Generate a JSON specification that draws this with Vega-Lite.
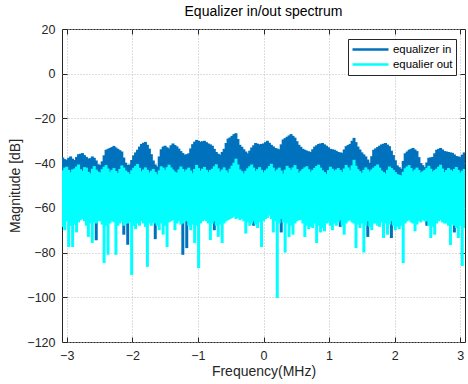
{
  "$schema": "https://vega.github.io/schema/vega-lite/v6.json",
  "width": 403,
  "height": 313,
  "autosize": {"type": "none"},
  "padding": {"left": 62, "top": 29, "right": 3, "bottom": 42},
  "title": {"text": "Equalizer in/out spectrum", "font": "Liberation Sans", "fontSize": 14, "fontWeight": "normal", "color": "#000000", "offset": 4},
  "config": {
    "view": {"stroke": "#262626", "strokeWidth": 1},
    "axis": {"labelFont": "Liberation Sans", "titleFont": "Liberation Sans", "labelFontSize": 12.5, "titleFontSize": 14, "titleFontWeight": "normal", "labelColor": "#262626", "titleColor": "#262626", "tickColor": "#262626", "tickSize": -5, "domain": false, "gridColor": "#bdbdbd", "gridDash": [1, 2], "gridWidth": 1, "zindex": 0}
  },
  "data": {"values": [
    {"f": -3.06, "in_hi": -37.5, "in_lo": -58.0, "out_hi": -43.2, "out_lo": -68.5},
    {"f": -3.03, "in_hi": -38.2, "in_lo": -58.4, "out_hi": -42.0, "out_lo": -70.0},
    {"f": -3.00, "in_hi": -38.5, "in_lo": -60.5, "out_hi": -41.6, "out_lo": -66.0},
    {"f": -2.97, "in_hi": -37.6, "in_lo": -60.1, "out_hi": -43.0, "out_lo": -77.5},
    {"f": -2.94, "in_hi": -37.0, "in_lo": -57.8, "out_hi": -44.1, "out_lo": -68.0},
    {"f": -2.91, "in_hi": -38.0, "in_lo": -57.2, "out_hi": -42.8, "out_lo": -77.5},
    {"f": -2.88, "in_hi": -38.6, "in_lo": -59.0, "out_hi": -42.4, "out_lo": -67.5},
    {"f": -2.85, "in_hi": -37.2, "in_lo": -59.5, "out_hi": -41.5, "out_lo": -71.0},
    {"f": -2.82, "in_hi": -36.0, "in_lo": -58.6, "out_hi": -40.6, "out_lo": -66.5},
    {"f": -2.79, "in_hi": -35.8, "in_lo": -61.3, "out_hi": -42.7, "out_lo": -65.5},
    {"f": -2.76, "in_hi": -35.5, "in_lo": -57.5, "out_hi": -43.5, "out_lo": -65.0},
    {"f": -2.73, "in_hi": -36.4, "in_lo": -58.0, "out_hi": -41.8, "out_lo": -66.0},
    {"f": -2.70, "in_hi": -37.2, "in_lo": -60.0, "out_hi": -42.0, "out_lo": -68.0},
    {"f": -2.67, "in_hi": -37.9, "in_lo": -60.6, "out_hi": -43.9, "out_lo": -73.0},
    {"f": -2.64, "in_hi": -37.8, "in_lo": -58.2, "out_hi": -44.6, "out_lo": -67.0},
    {"f": -2.61, "in_hi": -37.0, "in_lo": -62.0, "out_hi": -42.5, "out_lo": -75.7},
    {"f": -2.58, "in_hi": -37.6, "in_lo": -59.4, "out_hi": -41.3, "out_lo": -66.5},
    {"f": -2.55, "in_hi": -38.8, "in_lo": -74.5, "out_hi": -42.9, "out_lo": -67.0},
    {"f": -2.52, "in_hi": -40.5, "in_lo": -61.0, "out_hi": -43.8, "out_lo": -66.0},
    {"f": -2.49, "in_hi": -40.8, "in_lo": -59.0, "out_hi": -44.2, "out_lo": -66.0},
    {"f": -2.46, "in_hi": -39.2, "in_lo": -57.8, "out_hi": -42.7, "out_lo": -67.5},
    {"f": -2.43, "in_hi": -36.5, "in_lo": -57.5, "out_hi": -41.6, "out_lo": -84.7},
    {"f": -2.40, "in_hi": -34.0, "in_lo": -59.2, "out_hi": -40.9, "out_lo": -68.0},
    {"f": -2.37, "in_hi": -33.6, "in_lo": -60.8, "out_hi": -42.4, "out_lo": -81.0},
    {"f": -2.34, "in_hi": -33.2, "in_lo": -58.5, "out_hi": -43.9, "out_lo": -67.0},
    {"f": -2.31, "in_hi": -32.8, "in_lo": -58.7, "out_hi": -43.0, "out_lo": -66.0},
    {"f": -2.28, "in_hi": -32.3, "in_lo": -60.2, "out_hi": -42.2, "out_lo": -66.5},
    {"f": -2.25, "in_hi": -33.0, "in_lo": -61.5, "out_hi": -43.5, "out_lo": -81.0},
    {"f": -2.22, "in_hi": -33.6, "in_lo": -57.4, "out_hi": -44.4, "out_lo": -68.0},
    {"f": -2.19, "in_hi": -34.2, "in_lo": -57.9, "out_hi": -42.6, "out_lo": -67.0},
    {"f": -2.16, "in_hi": -34.8, "in_lo": -59.6, "out_hi": -41.0, "out_lo": -66.0},
    {"f": -2.13, "in_hi": -37.5, "in_lo": -72.0, "out_hi": -42.0, "out_lo": -68.0},
    {"f": -2.10, "in_hi": -39.8, "in_lo": -60.4, "out_hi": -43.3, "out_lo": -67.0},
    {"f": -2.07, "in_hi": -40.8, "in_lo": -76.5, "out_hi": -44.0, "out_lo": -67.0},
    {"f": -2.04, "in_hi": -40.6, "in_lo": -58.8, "out_hi": -44.8, "out_lo": -66.5},
    {"f": -2.01, "in_hi": -38.6, "in_lo": -59.8, "out_hi": -43.2, "out_lo": -90.0},
    {"f": -1.98, "in_hi": -36.5, "in_lo": -57.6, "out_hi": -42.1, "out_lo": -68.0},
    {"f": -1.95, "in_hi": -35.2, "in_lo": -58.3, "out_hi": -41.2, "out_lo": -69.5},
    {"f": -1.92, "in_hi": -34.0, "in_lo": -60.8, "out_hi": -40.4, "out_lo": -67.0},
    {"f": -1.89, "in_hi": -32.6, "in_lo": -61.0, "out_hi": -42.1, "out_lo": -68.0},
    {"f": -1.86, "in_hi": -31.4, "in_lo": -58.1, "out_hi": -43.6, "out_lo": -66.0},
    {"f": -1.83, "in_hi": -30.9, "in_lo": -57.6, "out_hi": -42.8, "out_lo": -67.0},
    {"f": -1.80, "in_hi": -30.5, "in_lo": -59.5, "out_hi": -41.9, "out_lo": -68.5},
    {"f": -1.77, "in_hi": -31.8, "in_lo": -60.4, "out_hi": -43.0, "out_lo": -86.4},
    {"f": -1.74, "in_hi": -33.5, "in_lo": -58.2, "out_hi": -44.2, "out_lo": -67.0},
    {"f": -1.71, "in_hi": -36.0, "in_lo": -58.9, "out_hi": -43.4, "out_lo": -68.0},
    {"f": -1.68, "in_hi": -38.8, "in_lo": -60.6, "out_hi": -42.6, "out_lo": -66.5},
    {"f": -1.65, "in_hi": -40.6, "in_lo": -74.0, "out_hi": -43.9, "out_lo": -67.0},
    {"f": -1.62, "in_hi": -41.5, "in_lo": -57.7, "out_hi": -45.0, "out_lo": -68.0},
    {"f": -1.59, "in_hi": -37.0, "in_lo": -59.6, "out_hi": -43.2, "out_lo": -70.0},
    {"f": -1.56, "in_hi": -33.8, "in_lo": -61.4, "out_hi": -41.4, "out_lo": -67.0},
    {"f": -1.53, "in_hi": -32.6, "in_lo": -61.2, "out_hi": -42.0, "out_lo": -72.0},
    {"f": -1.50, "in_hi": -32.2, "in_lo": -58.4, "out_hi": -43.1, "out_lo": -68.0},
    {"f": -1.47, "in_hi": -32.9, "in_lo": -58.1, "out_hi": -41.8, "out_lo": -77.5},
    {"f": -1.44, "in_hi": -33.4, "in_lo": -59.7, "out_hi": -40.7, "out_lo": -66.5},
    {"f": -1.41, "in_hi": -32.0, "in_lo": -60.2, "out_hi": -41.9, "out_lo": -66.0},
    {"f": -1.38, "in_hi": -31.2, "in_lo": -57.9, "out_hi": -42.9, "out_lo": -65.5},
    {"f": -1.35, "in_hi": -31.9, "in_lo": -57.4, "out_hi": -43.8, "out_lo": -70.0},
    {"f": -1.32, "in_hi": -32.5, "in_lo": -60.0, "out_hi": -44.3, "out_lo": -67.0},
    {"f": -1.29, "in_hi": -33.5, "in_lo": -59.9, "out_hi": -42.8, "out_lo": -66.0},
    {"f": -1.26, "in_hi": -34.6, "in_lo": -58.6, "out_hi": -41.5, "out_lo": -67.5},
    {"f": -1.23, "in_hi": -35.5, "in_lo": -81.0, "out_hi": -42.6, "out_lo": -67.0},
    {"f": -1.20, "in_hi": -36.2, "in_lo": -60.7, "out_hi": -43.7, "out_lo": -66.0},
    {"f": -1.17, "in_hi": -36.0, "in_lo": -78.0, "out_hi": -42.8, "out_lo": -66.0},
    {"f": -1.14, "in_hi": -35.6, "in_lo": -58.0, "out_hi": -42.0, "out_lo": -68.0},
    {"f": -1.11, "in_hi": -33.4, "in_lo": -58.6, "out_hi": -43.3, "out_lo": -70.0},
    {"f": -1.08, "in_hi": -31.5, "in_lo": -61.0, "out_hi": -44.5, "out_lo": -67.5},
    {"f": -1.05, "in_hi": -30.4, "in_lo": -61.4, "out_hi": -42.6, "out_lo": -75.7},
    {"f": -1.02, "in_hi": -29.6, "in_lo": -58.8, "out_hi": -40.8, "out_lo": -68.0},
    {"f": -0.99, "in_hi": -30.0, "in_lo": -57.8, "out_hi": -42.2, "out_lo": -87.0},
    {"f": -0.96, "in_hi": -30.4, "in_lo": -59.4, "out_hi": -43.4, "out_lo": -67.0},
    {"f": -0.93, "in_hi": -30.2, "in_lo": -60.0, "out_hi": -42.5, "out_lo": -66.0},
    {"f": -0.90, "in_hi": -30.0, "in_lo": -58.0, "out_hi": -41.7, "out_lo": -65.5},
    {"f": -0.87, "in_hi": -30.6, "in_lo": -58.5, "out_hi": -43.0, "out_lo": -66.0},
    {"f": -0.84, "in_hi": -31.2, "in_lo": -60.4, "out_hi": -44.0, "out_lo": -67.0},
    {"f": -0.81, "in_hi": -31.6, "in_lo": -61.1, "out_hi": -43.1, "out_lo": -74.4},
    {"f": -0.78, "in_hi": -32.2, "in_lo": -57.6, "out_hi": -42.5, "out_lo": -67.0},
    {"f": -0.75, "in_hi": -33.6, "in_lo": -70.0, "out_hi": -41.4, "out_lo": -66.0},
    {"f": -0.72, "in_hi": -35.0, "in_lo": -59.8, "out_hi": -40.5, "out_lo": -68.0},
    {"f": -0.69, "in_hi": -35.8, "in_lo": -59.3, "out_hi": -42.3, "out_lo": -73.0},
    {"f": -0.66, "in_hi": -36.2, "in_lo": -58.3, "out_hi": -43.8, "out_lo": -67.5},
    {"f": -0.63, "in_hi": -35.0, "in_lo": -57.7, "out_hi": -42.9, "out_lo": -75.7},
    {"f": -0.60, "in_hi": -33.6, "in_lo": -60.2, "out_hi": -41.9, "out_lo": -67.0},
    {"f": -0.57, "in_hi": -31.0, "in_lo": -60.7, "out_hi": -43.2, "out_lo": -66.0},
    {"f": -0.54, "in_hi": -29.0, "in_lo": -58.8, "out_hi": -44.2, "out_lo": -65.5},
    {"f": -0.51, "in_hi": -28.5, "in_lo": -58.2, "out_hi": -42.5, "out_lo": -65.0},
    {"f": -0.48, "in_hi": -27.8, "in_lo": -59.9, "out_hi": -41.1, "out_lo": -64.5},
    {"f": -0.45, "in_hi": -27.0, "in_lo": -59.4, "out_hi": -39.8, "out_lo": -64.0},
    {"f": -0.42, "in_hi": -26.6, "in_lo": -57.8, "out_hi": -38.0, "out_lo": -65.0},
    {"f": -0.39, "in_hi": -29.2, "in_lo": -61.6, "out_hi": -40.6, "out_lo": -64.5},
    {"f": -0.36, "in_hi": -31.8, "in_lo": -58.6, "out_hi": -42.8, "out_lo": -65.5},
    {"f": -0.33, "in_hi": -32.7, "in_lo": -57.3, "out_hi": -43.6, "out_lo": -65.0},
    {"f": -0.30, "in_hi": -33.8, "in_lo": -60.1, "out_hi": -44.6, "out_lo": -66.0},
    {"f": -0.27, "in_hi": -34.8, "in_lo": -60.3, "out_hi": -43.4, "out_lo": -71.5},
    {"f": -0.24, "in_hi": -35.6, "in_lo": -58.1, "out_hi": -42.3, "out_lo": -66.5},
    {"f": -0.21, "in_hi": -34.4, "in_lo": -58.8, "out_hi": -41.4, "out_lo": -68.0},
    {"f": -0.18, "in_hi": -33.0, "in_lo": -61.2, "out_hi": -40.6, "out_lo": -67.0},
    {"f": -0.15, "in_hi": -32.0, "in_lo": -68.0, "out_hi": -42.0, "out_lo": -66.0},
    {"f": -0.12, "in_hi": -31.0, "in_lo": -58.7, "out_hi": -43.5, "out_lo": -67.5},
    {"f": -0.09, "in_hi": -31.3, "in_lo": -59.7, "out_hi": -42.7, "out_lo": -69.0},
    {"f": -0.06, "in_hi": -31.6, "in_lo": -57.5, "out_hi": -41.8, "out_lo": -66.5},
    {"f": -0.03, "in_hi": -31.4, "in_lo": -57.9, "out_hi": -43.0, "out_lo": -77.5},
    {"f": 0.00, "in_hi": -31.2, "in_lo": -60.3, "out_hi": -44.1, "out_lo": -66.0},
    {"f": 0.03, "in_hi": -30.6, "in_lo": -60.9, "out_hi": -43.2, "out_lo": -65.0},
    {"f": 0.06, "in_hi": -30.0, "in_lo": -58.9, "out_hi": -42.4, "out_lo": -64.5},
    {"f": 0.09, "in_hi": -30.9, "in_lo": -58.4, "out_hi": -41.3, "out_lo": -63.5},
    {"f": 0.12, "in_hi": -31.8, "in_lo": -60.6, "out_hi": -40.3, "out_lo": -65.0},
    {"f": 0.15, "in_hi": -32.5, "in_lo": -61.7, "out_hi": -42.0, "out_lo": -71.0},
    {"f": 0.18, "in_hi": -33.2, "in_lo": -58.3, "out_hi": -43.6, "out_lo": -66.0},
    {"f": 0.21, "in_hi": -33.5, "in_lo": -57.6, "out_hi": -42.8, "out_lo": -100.3},
    {"f": 0.24, "in_hi": -33.8, "in_lo": -59.4, "out_hi": -42.0, "out_lo": -67.0},
    {"f": 0.27, "in_hi": -31.6, "in_lo": -71.0, "out_hi": -43.3, "out_lo": -65.0},
    {"f": 0.30, "in_hi": -29.4, "in_lo": -60.2, "out_hi": -44.7, "out_lo": -66.5},
    {"f": 0.33, "in_hi": -28.8, "in_lo": -59.2, "out_hi": -42.9, "out_lo": -80.0},
    {"f": 0.36, "in_hi": -28.2, "in_lo": -57.8, "out_hi": -41.2, "out_lo": -67.0},
    {"f": 0.39, "in_hi": -27.6, "in_lo": -60.5, "out_hi": -42.1, "out_lo": -73.0},
    {"f": 0.42, "in_hi": -27.0, "in_lo": -61.1, "out_hi": -43.0, "out_lo": -68.0},
    {"f": 0.45, "in_hi": -27.8, "in_lo": -58.0, "out_hi": -41.9, "out_lo": -72.0},
    {"f": 0.48, "in_hi": -28.6, "in_lo": -58.6, "out_hi": -40.9, "out_lo": -67.0},
    {"f": 0.51, "in_hi": -30.2, "in_lo": -61.3, "out_hi": -42.6, "out_lo": -66.0},
    {"f": 0.54, "in_hi": -31.8, "in_lo": -59.0, "out_hi": -44.3, "out_lo": -65.5},
    {"f": 0.57, "in_hi": -32.7, "in_lo": -57.8, "out_hi": -43.4, "out_lo": -65.5},
    {"f": 0.60, "in_hi": -33.6, "in_lo": -60.4, "out_hi": -42.6, "out_lo": -67.0},
    {"f": 0.63, "in_hi": -34.0, "in_lo": -60.1, "out_hi": -41.9, "out_lo": -73.0},
    {"f": 0.66, "in_hi": -34.4, "in_lo": -58.5, "out_hi": -41.4, "out_lo": -68.0},
    {"f": 0.69, "in_hi": -34.7, "in_lo": -58.6, "out_hi": -42.7, "out_lo": -69.5},
    {"f": 0.72, "in_hi": -35.0, "in_lo": -61.0, "out_hi": -43.9, "out_lo": -68.5},
    {"f": 0.75, "in_hi": -33.8, "in_lo": -61.0, "out_hi": -43.0, "out_lo": -69.0},
    {"f": 0.78, "in_hi": -32.6, "in_lo": -57.9, "out_hi": -42.1, "out_lo": -67.0},
    {"f": 0.81, "in_hi": -32.0, "in_lo": -57.5, "out_hi": -41.3, "out_lo": -75.7},
    {"f": 0.84, "in_hi": -31.4, "in_lo": -59.6, "out_hi": -40.7, "out_lo": -68.0},
    {"f": 0.87, "in_hi": -31.2, "in_lo": -59.8, "out_hi": -42.0, "out_lo": -71.0},
    {"f": 0.90, "in_hi": -31.0, "in_lo": -58.2, "out_hi": -43.2, "out_lo": -69.0},
    {"f": 0.93, "in_hi": -31.6, "in_lo": -60.6, "out_hi": -44.0, "out_lo": -70.5},
    {"f": 0.96, "in_hi": -32.2, "in_lo": -60.9, "out_hi": -44.8, "out_lo": -67.0},
    {"f": 0.99, "in_hi": -32.9, "in_lo": -58.3, "out_hi": -43.1, "out_lo": -66.5},
    {"f": 1.02, "in_hi": -33.6, "in_lo": -57.7, "out_hi": -41.6, "out_lo": -68.0},
    {"f": 1.05, "in_hi": -33.8, "in_lo": -61.4, "out_hi": -42.5, "out_lo": -70.0},
    {"f": 1.08, "in_hi": -34.0, "in_lo": -59.1, "out_hi": -43.4, "out_lo": -67.0},
    {"f": 1.11, "in_hi": -34.5, "in_lo": -57.9, "out_hi": -42.8, "out_lo": -68.0},
    {"f": 1.14, "in_hi": -35.0, "in_lo": -60.5, "out_hi": -42.2, "out_lo": -66.5},
    {"f": 1.17, "in_hi": -35.2, "in_lo": -68.5, "out_hi": -43.1, "out_lo": -65.5},
    {"f": 1.20, "in_hi": -35.4, "in_lo": -58.4, "out_hi": -44.0, "out_lo": -68.0},
    {"f": 1.23, "in_hi": -33.9, "in_lo": -59.5, "out_hi": -42.4, "out_lo": -72.0},
    {"f": 1.26, "in_hi": -32.4, "in_lo": -61.2, "out_hi": -40.8, "out_lo": -67.0},
    {"f": 1.29, "in_hi": -31.9, "in_lo": -60.8, "out_hi": -41.9, "out_lo": -66.0},
    {"f": 1.32, "in_hi": -31.4, "in_lo": -57.6, "out_hi": -43.1, "out_lo": -65.5},
    {"f": 1.35, "in_hi": -30.0, "in_lo": -58.1, "out_hi": -41.0, "out_lo": -66.5},
    {"f": 1.38, "in_hi": -28.7, "in_lo": -60.3, "out_hi": -38.5, "out_lo": -67.0},
    {"f": 1.41, "in_hi": -30.6, "in_lo": -61.2, "out_hi": -41.2, "out_lo": -78.0},
    {"f": 1.44, "in_hi": -32.6, "in_lo": -58.8, "out_hi": -42.7, "out_lo": -67.5},
    {"f": 1.47, "in_hi": -33.9, "in_lo": -57.4, "out_hi": -43.6, "out_lo": -69.0},
    {"f": 1.50, "in_hi": -35.2, "in_lo": -59.9, "out_hi": -44.4, "out_lo": -67.0},
    {"f": 1.53, "in_hi": -36.1, "in_lo": -60.0, "out_hi": -43.0, "out_lo": -80.0},
    {"f": 1.56, "in_hi": -37.0, "in_lo": -58.2, "out_hi": -41.9, "out_lo": -68.0},
    {"f": 1.59, "in_hi": -38.4, "in_lo": -73.0, "out_hi": -42.8, "out_lo": -66.0},
    {"f": 1.62, "in_hi": -39.8, "in_lo": -61.0, "out_hi": -43.7, "out_lo": -68.5},
    {"f": 1.65, "in_hi": -36.9, "in_lo": -58.7, "out_hi": -42.8, "out_lo": -70.0},
    {"f": 1.68, "in_hi": -34.0, "in_lo": -57.6, "out_hi": -42.0, "out_lo": -67.0},
    {"f": 1.71, "in_hi": -33.4, "in_lo": -61.6, "out_hi": -41.3, "out_lo": -67.0},
    {"f": 1.74, "in_hi": -32.8, "in_lo": -60.1, "out_hi": -40.6, "out_lo": -68.0},
    {"f": 1.77, "in_hi": -32.2, "in_lo": -57.7, "out_hi": -42.0, "out_lo": -68.5},
    {"f": 1.80, "in_hi": -31.6, "in_lo": -58.9, "out_hi": -43.3, "out_lo": -66.5},
    {"f": 1.83, "in_hi": -31.3, "in_lo": -59.9, "out_hi": -44.0, "out_lo": -73.5},
    {"f": 1.86, "in_hi": -31.0, "in_lo": -61.3, "out_hi": -44.6, "out_lo": -67.0},
    {"f": 1.89, "in_hi": -31.7, "in_lo": -60.4, "out_hi": -43.0, "out_lo": -72.0},
    {"f": 1.92, "in_hi": -32.4, "in_lo": -58.0, "out_hi": -41.5, "out_lo": -67.5},
    {"f": 1.95, "in_hi": -34.4, "in_lo": -73.5, "out_hi": -42.2, "out_lo": -66.0},
    {"f": 1.98, "in_hi": -36.4, "in_lo": -59.5, "out_hi": -43.0, "out_lo": -68.0},
    {"f": 2.01, "in_hi": -38.7, "in_lo": -58.2, "out_hi": -44.0, "out_lo": -70.0},
    {"f": 2.04, "in_hi": -41.0, "in_lo": -60.7, "out_hi": -44.9, "out_lo": -68.5},
    {"f": 2.07, "in_hi": -41.8, "in_lo": -61.0, "out_hi": -45.2, "out_lo": -69.5},
    {"f": 2.10, "in_hi": -42.5, "in_lo": -57.9, "out_hi": -45.5, "out_lo": -68.0},
    {"f": 2.13, "in_hi": -39.0, "in_lo": -57.6, "out_hi": -43.9, "out_lo": -84.7},
    {"f": 2.16, "in_hi": -35.6, "in_lo": -60.0, "out_hi": -42.3, "out_lo": -67.0},
    {"f": 2.19, "in_hi": -34.8, "in_lo": -60.2, "out_hi": -41.5, "out_lo": -66.0},
    {"f": 2.22, "in_hi": -34.0, "in_lo": -58.3, "out_hi": -40.9, "out_lo": -65.5},
    {"f": 2.25, "in_hi": -33.6, "in_lo": -58.9, "out_hi": -42.2, "out_lo": -66.5},
    {"f": 2.28, "in_hi": -33.2, "in_lo": -61.4, "out_hi": -43.6, "out_lo": -67.0},
    {"f": 2.31, "in_hi": -33.9, "in_lo": -61.5, "out_hi": -42.8, "out_lo": -70.5},
    {"f": 2.34, "in_hi": -34.6, "in_lo": -58.1, "out_hi": -42.0, "out_lo": -67.5},
    {"f": 2.37, "in_hi": -37.3, "in_lo": -57.8, "out_hi": -43.1, "out_lo": -66.0},
    {"f": 2.40, "in_hi": -40.0, "in_lo": -60.6, "out_hi": -44.2, "out_lo": -66.5},
    {"f": 2.43, "in_hi": -40.9, "in_lo": -59.6, "out_hi": -43.6, "out_lo": -65.5},
    {"f": 2.46, "in_hi": -41.8, "in_lo": -58.0, "out_hi": -43.0, "out_lo": -66.0},
    {"f": 2.49, "in_hi": -39.7, "in_lo": -68.0, "out_hi": -42.1, "out_lo": -66.0},
    {"f": 2.52, "in_hi": -37.6, "in_lo": -61.2, "out_hi": -41.2, "out_lo": -68.0},
    {"f": 2.55, "in_hi": -37.4, "in_lo": -60.7, "out_hi": -42.5, "out_lo": -73.5},
    {"f": 2.58, "in_hi": -37.2, "in_lo": -58.5, "out_hi": -43.8, "out_lo": -68.5},
    {"f": 2.61, "in_hi": -35.6, "in_lo": -58.4, "out_hi": -43.1, "out_lo": -72.0},
    {"f": 2.64, "in_hi": -34.0, "in_lo": -60.9, "out_hi": -42.5, "out_lo": -67.0},
    {"f": 2.67, "in_hi": -33.6, "in_lo": -61.1, "out_hi": -41.6, "out_lo": -66.0},
    {"f": 2.70, "in_hi": -33.2, "in_lo": -57.9, "out_hi": -40.7, "out_lo": -65.5},
    {"f": 2.73, "in_hi": -33.9, "in_lo": -57.5, "out_hi": -42.4, "out_lo": -66.5},
    {"f": 2.76, "in_hi": -34.6, "in_lo": -60.2, "out_hi": -44.0, "out_lo": -67.0},
    {"f": 2.79, "in_hi": -34.8, "in_lo": -59.7, "out_hi": -43.1, "out_lo": -67.0},
    {"f": 2.82, "in_hi": -35.0, "in_lo": -58.6, "out_hi": -42.2, "out_lo": -68.0},
    {"f": 2.85, "in_hi": -35.2, "in_lo": -60.3, "out_hi": -42.9, "out_lo": -76.6},
    {"f": 2.88, "in_hi": -35.4, "in_lo": -61.0, "out_hi": -43.5, "out_lo": -67.5},
    {"f": 2.91, "in_hi": -36.1, "in_lo": -71.0, "out_hi": -42.6, "out_lo": -68.0},
    {"f": 2.94, "in_hi": -36.8, "in_lo": -58.4, "out_hi": -41.7, "out_lo": -69.0},
    {"f": 2.97, "in_hi": -37.0, "in_lo": -58.8, "out_hi": -43.0, "out_lo": -73.5},
    {"f": 3.00, "in_hi": -37.3, "in_lo": -60.4, "out_hi": -44.3, "out_lo": -68.0},
    {"f": 3.03, "in_hi": -36.2, "in_lo": -60.5, "out_hi": -43.4, "out_lo": -86.0},
    {"f": 3.06, "in_hi": -35.2, "in_lo": -58.0, "out_hi": -42.6, "out_lo": -69.0}
  ]},
  "layer": [
    {
      "mark": {"type": "rule", "strokeWidth": 3, "clip": true},
      "encoding": {
        "x": {"field": "f", "type": "quantitative", "scale": {"domain": [-3.072, 3.072], "nice": false, "zero": false},
              "axis": {"orient": "bottom", "values": [-3, -2, -1, 0, 1, 2, 3], "title": "Frequency(MHz)", "labelPadding": 12, "titlePadding": 3, "grid": true}},
        "y": {"field": "in_hi", "type": "quantitative", "scale": {"domain": [-120, 20], "nice": false, "zero": false},
              "axis": {"orient": "left", "values": [-120, -100, -80, -60, -40, -20, 0, 20], "title": "Magnitude [dB]", "labelPadding": 12, "titlePadding": 4, "grid": true}},
        "y2": {"field": "in_lo"},
        "color": {"datum": "equalizer in", "type": "nominal",
                  "scale": {"domain": ["equalizer in", "equalier out"], "range": ["#0072BD", "#00FFFF"]},
                  "legend": {"title": null, "orient": "none", "legendX": 286, "legendY": 10, "symbolType": "stroke", "symbolSize": 1296, "symbolStrokeWidth": 2.5, "labelFont": "Liberation Sans", "labelFontSize": 11.4, "labelColor": "#000000", "fillColor": "#ffffff", "strokeColor": "#262626", "padding": 3, "clipHeight": 15, "rowPadding": 0, "labelOffset": 3}}
      }
    },
    {
      "mark": {"type": "rule", "strokeWidth": 3, "clip": true},
      "encoding": {
        "x": {"field": "f", "type": "quantitative",
              "axis": {"orient": "top", "values": [-3, -2, -1, 0, 1, 2, 3], "title": null, "labels": false, "grid": false}},
        "y": {"field": "out_hi", "type": "quantitative",
              "axis": {"orient": "right", "values": [-120, -100, -80, -60, -40, -20, 0, 20], "title": null, "labels": false, "grid": false}},
        "y2": {"field": "out_lo"},
        "color": {"datum": "equalier out", "type": "nominal"}
      }
    }
  ],
  "resolve": {"axis": {"x": "independent", "y": "independent"}}
}
